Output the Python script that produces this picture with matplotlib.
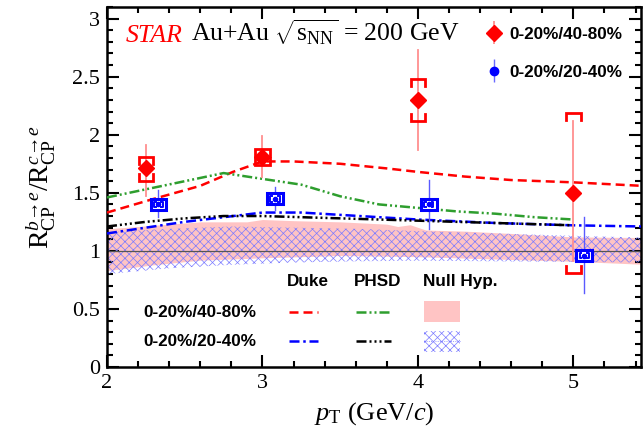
import numpy as np
import matplotlib
matplotlib.use("Agg")
import matplotlib.pyplot as plt
from matplotlib.patches import Rectangle
from matplotlib.ticker import MultipleLocator

plt.rcParams["mathtext.fontset"] = "custom"
plt.rcParams["mathtext.rm"] = "Liberation Serif"
plt.rcParams["mathtext.it"] = "Liberation Serif:italic"
plt.rcParams["hatch.linewidth"] = 0.5

SERIF = "Liberation Serif"
SANS = "Liberation Sans"

# ── data: measured ratio ────────────────────────────────────────────────────
x_4080   = [2.25, 3.00, 4.00, 5.00]
y_4080   = [1.71, 1.81, 2.30, 1.50]
stat_hi_4080 = [1.91, 1.99, 2.73, 2.12]
stat_lo_4080 = [1.47, 1.64, 1.87, 0.91]
sys_hi_4080  = [1.81, 1.88, 2.48, 2.19]
sys_lo_4080  = [1.60, 1.74, 2.12, 0.81]

x_2040   = [2.33, 3.08, 4.07, 5.07]
y_2040   = [1.40, 1.45, 1.40, 0.96]
stat_hi_2040 = [1.52, 1.55, 1.61, 1.29]
stat_lo_2040 = [1.29, 1.35, 1.19, 0.64]

# ── data: model curves ──────────────────────────────────────────────────────
duke_4080_x = [2.0, 2.28, 2.6, 2.81, 3.0, 3.2, 3.5, 3.8, 4.0, 4.3, 4.6, 5.0, 5.44]
duke_4080_y = [1.33, 1.44, 1.56, 1.68, 1.77, 1.77, 1.75, 1.71, 1.68, 1.64, 1.61, 1.59, 1.56]

phsd_4080_x = [2.0, 2.25, 2.5, 2.75, 3.0, 3.25, 3.5, 3.75, 4.0, 4.25, 4.5, 4.75, 5.0]
phsd_4080_y = [1.46, 1.53, 1.60, 1.67, 1.62, 1.57, 1.47, 1.40, 1.37, 1.34, 1.32, 1.29, 1.27]

duke_2040_x = [2.0, 2.25, 2.5, 2.75, 3.0, 3.25, 3.5, 4.0, 4.5, 5.0, 5.44]
duke_2040_y = [1.15, 1.20, 1.25, 1.29, 1.33, 1.33, 1.31, 1.27, 1.24, 1.22, 1.21]

phsd_2040_x = [2.0, 2.25, 2.5, 2.75, 3.0, 3.5, 4.0, 4.5, 5.0]
phsd_2040_y = [1.21, 1.25, 1.28, 1.30, 1.30, 1.28, 1.26, 1.24, 1.22]

# null hypothesis bands
null_4080_top_x = [2.0, 2.3, 2.6, 2.9, 3.0, 3.2, 3.5, 3.8, 3.87, 3.95, 4.05, 4.3, 4.6, 5.0, 5.44]
null_4080_top_y = [1.19, 1.22, 1.25, 1.25, 1.27, 1.26, 1.25, 1.23, 1.21, 1.225, 1.18, 1.17, 1.15, 1.12, 1.115]
null_4080_bot_x = [2.0, 2.3, 2.6, 3.0, 3.5, 4.0, 4.5, 5.0, 5.44]
null_4080_bot_y = [0.83, 0.88, 0.92, 0.94, 0.96, 0.95, 0.93, 0.91, 0.885]

null_2040_x     = [2.0, 2.4, 2.8, 3.2, 3.6, 4.0, 4.5, 5.0, 5.44]
null_2040_top_y = [1.16, 1.19, 1.21, 1.20, 1.19, 1.17, 1.15, 1.13, 1.115]
null_2040_bot_y = [0.80, 0.85, 0.88, 0.90, 0.91, 0.915, 0.91, 0.905, 0.90]

PINK   = "#ffc4c4"
GREEN  = "#2e9e2e"
HATCH  = "#7a7aff"
DASH_DUKE_4080 = (0, (3.6, 2.0))
DASH_PHSD_4080 = (0, (4.0, 1.2, 0.8, 1.2, 0.8, 1.2))
DASH_DUKE_2040 = (0, (4.0, 1.5, 1.0, 1.5))
DASH_PHSD_2040 = (0, (4.0, 1.2, 0.8, 1.2, 0.8, 1.2, 0.8, 1.2))


def red_bracket(ax, x, lo, hi, w=0.046, h=0.06, **kw):
    ax.plot([x - w, x - w, x + w, x + w], [hi - h, hi, hi, hi - h], **kw)
    ax.plot([x - w, x - w, x + w, x + w], [lo + h, lo, lo, lo + h], **kw)


fig = plt.figure(figsize=(6.43, 4.41), dpi=100)
ax = fig.add_axes([107 / 643, 1 - 367 / 441, (641 - 107) / 643, 360 / 441])

# bands
xb = np.array(null_4080_top_x)
ax.fill_between(xb, np.interp(xb, null_4080_bot_x, null_4080_bot_y),
                null_4080_top_y, color=PINK, lw=0, zorder=1)
ax.fill_between(null_2040_x, null_2040_bot_y, null_2040_top_y, facecolor="none",
                edgecolor=HATCH, hatch="xxxx", lw=0, zorder=2)
ax.axhline(1.0, color="#555555", lw=0.9, zorder=2)

# models
ax.plot(duke_4080_x, duke_4080_y, color="red", lw=1.8, ls=DASH_DUKE_4080, zorder=3)
ax.plot(phsd_4080_x, phsd_4080_y, color=GREEN, lw=1.8, ls=DASH_PHSD_4080, zorder=3)
ax.plot(duke_2040_x, duke_2040_y, color="blue", lw=1.8, ls=DASH_DUKE_2040, zorder=3)
ax.plot(phsd_2040_x, phsd_2040_y, color="black", lw=1.8, ls=DASH_PHSD_2040, zorder=3)

# 0-20%/40-80% points
for x, y, sl, sh, bl, bh in zip(x_4080, y_4080, stat_lo_4080, stat_hi_4080,
                                sys_lo_4080, sys_hi_4080):
    ax.plot([x, x], [sl, sh], color="#ff8f8f", lw=1.3, zorder=4)
    red_bracket(ax, x, bl, bh, color="red", lw=2.0, zorder=5,
                solid_joinstyle="miter")
ax.plot(x_4080, y_4080, "D", color="red", ms=8, mec="red", zorder=6)

# 0-20%/20-40% points
for x, y, sl, sh in zip(x_2040, y_2040, stat_lo_2040, stat_hi_2040):
    ax.plot([x, x], [sl, sh], color="#5a5aff", lw=1.0, zorder=4)
    ax.add_patch(Rectangle((x - 0.05, y - 0.045), 0.10, 0.09, facecolor="white",
                           edgecolor="blue", lw=2.2, zorder=5))
    ax.plot([x - 0.018, x - 0.03, x - 0.03, x - 0.018],
            [y + 0.025, y + 0.025, y - 0.025, y - 0.025], color="blue", lw=1.4, zorder=6)
    ax.plot([x + 0.018, x + 0.03, x + 0.03, x + 0.018],
            [y + 0.025, y + 0.025, y - 0.025, y - 0.025], color="blue", lw=1.4, zorder=6)
ax.plot(x_2040, y_2040, "o", color="blue", ms=3, zorder=6)

# title
ax.text(2.118, 2.80, "STAR", color="red", fontsize=18.5, family=SERIF,
        style="italic", va="baseline")
ax.text(2.54, 2.80, r"Au+Au $\sqrt{\mathrm{s}_{\mathrm{NN}}}$ = 200 GeV",
        fontsize=18.5, family=SERIF, va="baseline")

# top-right legend
ax.errorbar([4.49], [2.88], yerr=[0.1], fmt="D", color="red", ms=8,
            ecolor="#ff8f8f", elinewidth=1.3, capsize=0, zorder=6)
ax.errorbar([4.49], [2.55], yerr=[0.1], fmt="o", color="blue", ms=6,
            ecolor="#6a6aff", elinewidth=1.0, capsize=0, zorder=6)
ax.text(4.59, 2.86, "0-20%/40-80%", fontsize=12.3, family=SANS, weight="bold", va="center")
ax.text(4.59, 2.54, "0-20%/20-40%", fontsize=12.3, family=SANS, weight="bold", va="center")

# model legend
for xc, label in [(3.29, "Duke"), (3.74, "PHSD"), (4.27, "Null Hyp.")]:
    ax.text(xc, 0.74, label, fontsize=12.3, family=SANS, weight="bold",
            ha="center", va="center")
ax.text(2.60, 0.47, "0-20%/40-80%", fontsize=12.3, family=SANS, weight="bold",
        ha="center", va="center")
ax.text(2.60, 0.22, "0-20%/20-40%", fontsize=12.3, family=SANS, weight="bold",
        ha="center", va="center")
ax.plot([3.17, 3.36], [0.47, 0.47], color="red", lw=1.8, ls=DASH_DUKE_4080)
ax.plot([3.60, 3.83], [0.47, 0.47], color=GREEN, lw=1.8, ls=DASH_PHSD_4080)
ax.plot([3.17, 3.36], [0.22, 0.22], color="blue", lw=1.8, ls=DASH_DUKE_2040)
ax.plot([3.60, 3.83], [0.22, 0.22], color="black", lw=1.8, ls=DASH_PHSD_2040)
ax.add_patch(Rectangle((4.04, 0.39), 0.23, 0.18, facecolor=PINK, lw=0))
ax.add_patch(Rectangle((4.04, 0.13), 0.23, 0.18, facecolor="none",
                       edgecolor=HATCH, hatch="xxxx", lw=0))
ax.plot([4.04, 4.27], [0.22, 0.22], color=HATCH, lw=0.6, ls=":")

# axes
ax.set_xlim(2, 5.435)
ax.set_ylim(0, 3.1)
ax.xaxis.set_minor_locator(MultipleLocator(0.2))
ax.yaxis.set_minor_locator(MultipleLocator(0.1))
ax.tick_params(which="both", direction="in", top=True, right=True, width=1.5)
ax.tick_params(which="major", length=8.5, labelsize=16, pad=5)
ax.tick_params(which="minor", length=4.5)
for sp in ax.spines.values():
    sp.set_linewidth(1.8)
ax.set_yticks([0, 0.5, 1, 1.5, 2, 2.5, 3])
ax.set_yticklabels(["0", "0.5", "1", "1.5", "2", "2.5", "3"], family=SERIF)
ax.set_xticks([2, 3, 4, 5])
ax.set_xticklabels(["2", "3", "4", "5"], family=SERIF)

ax.set_xlabel(r"$p_{\mathrm{T}}$ (GeV/$c$)", fontsize=19, family=SERIF, labelpad=5)
ax.set_ylabel(r"$\mathrm{R}_{\mathrm{CP}}^{b\!\rightarrow\! e}/\mathrm{R}_{\mathrm{CP}}^{c\!\rightarrow\! e}$",
              fontsize=20, family=SERIF, labelpad=10)

fig.savefig("out.png", dpi=100)
